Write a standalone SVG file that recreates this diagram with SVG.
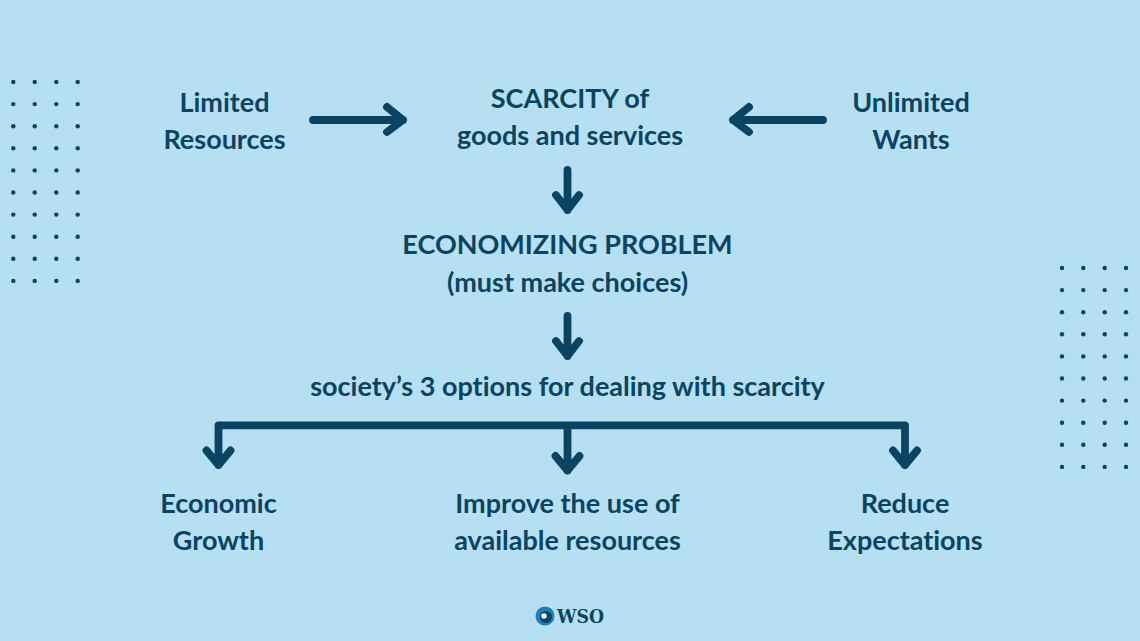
<svg xmlns="http://www.w3.org/2000/svg" width="1140" height="641" viewBox="0 0 1140 641">
<style>
text{font-family:"Lato","Open Sans","Liberation Sans",sans-serif;font-weight:700;font-size:27px;fill:#0b4461;text-anchor:middle;font-variant-ligatures:none}
.c{fill:none;stroke:#0b4461;stroke-width:7.8px;stroke-linecap:round;stroke-linejoin:round}
.d{fill:#0b4461}
</style>
<defs>
<g id="col"><circle cx="0" cy="0" r="2.2"/><circle cx="0" cy="22.1" r="2.2"/><circle cx="0" cy="44.2" r="2.2"/><circle cx="0" cy="66.3" r="2.2"/><circle cx="0" cy="88.4" r="2.2"/><circle cx="0" cy="110.5" r="2.2"/><circle cx="0" cy="132.6" r="2.2"/><circle cx="0" cy="154.7" r="2.2"/><circle cx="0" cy="176.8" r="2.2"/><circle cx="0" cy="198.9" r="2.2"/></g>
</defs>
<rect width="1140" height="641" fill="#b6dff2"/>
<g id="dots-left" class="d">
<use href="#col" x="13.3" y="82"/><use href="#col" x="34.7" y="82"/><use href="#col" x="56.3" y="82"/><use href="#col" x="77.7" y="82"/>
</g>
<g id="dots-right" class="d">
<use href="#col" x="1062" y="268"/><use href="#col" x="1083.3" y="268"/><use href="#col" x="1104.7" y="268"/><use href="#col" x="1126" y="268"/>
</g>
<g id="connectors">
<path class="c" d="M313 120H403M387 107L403 120L387 132"/>
<path class="c" d="M823 120H733M749 107L733 120L749 132"/>
<path class="c" d="M567.500 170V210M556 195L567.500 210L579 195"/>
<path class="c" d="M567.500 316V356M556 341L567.500 356L579 341"/>
<path class="c" d="M218.500 465V425.300H905V465M206.500 450.500L218.500 465L230.500 450.500M555.500 456L567.500 470.500L579.500 456M567.500 425.300V470.500M893 450.500L905 465L917 450.500"/>
</g>
<g id="limited"><text x="224.500" y="111.700">Limited</text><text x="224.500" y="148.700">Resources</text></g>
<g id="scarcity"><text x="570" y="107.700">SCARCITY of</text><text x="570" y="145">goods and services</text></g>
<g id="unlimited"><text x="911" y="111.700">Unlimited</text><text x="911" y="148.700">Wants</text></g>
<g id="problem"><text x="567.500" y="253.700">ECONOMIZING PROBLEM</text><text x="567.500" y="291.500">(must make choices)</text></g>
<g id="options"><text x="567.500" y="396.300">society’s 3 options for dealing with scarcity</text></g>
<g id="growth"><text x="218.500" y="512.700">Economic</text><text x="218.500" y="549.700">Growth</text></g>
<g id="improve"><text x="567.500" y="512.700">Improve the use of</text><text x="567.500" y="549.700">available resources</text></g>
<g id="reduce"><text x="905" y="512.700">Reduce</text><text x="905" y="549.700">Expectations</text></g>
<g id="wso">
<circle cx="545" cy="616" r="9.500" fill="#1b7fb8"/>
<circle cx="546" cy="617" r="6" fill="#0b4461"/>
<circle cx="544" cy="616" r="2.800" fill="#e8f4fa"/>
<text x="580.500" y="622.500" textLength="47" lengthAdjust="spacingAndGlyphs" style="font-family:'DejaVu Serif',serif;font-weight:700;font-size:18px">WSO</text>
</g>
</svg>
